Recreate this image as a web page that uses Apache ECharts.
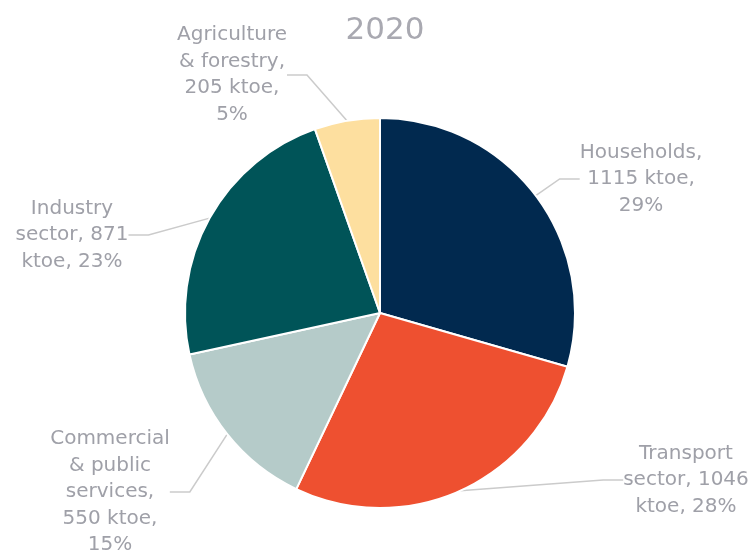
<!DOCTYPE html>
<html>
<head>
<meta charset="utf-8">
<script src="https://cdn.jsdelivr.net/npm/echarts@6/dist/echarts.min.js"></script>
<style>
  html, body { margin: 0; padding: 0; background: #fff; }
  #chart { width: 752px; height: 557px; }
</style>
</head>
<body>
<div id="chart"></div>
<script>
// Final energy consumption by sector, 2020 (ktoe)
const year = '2020';
const sectors = ['Households', 'Transport sector', 'Commercial & public services', 'Industry sector', 'Agriculture & forestry'];
const ktoe = [1115, 1046, 550, 871, 205];
const colors = ['#01294f', '#ee5030', '#b5cbc9', '#005458', '#fddf9f'];

// Label text templates: {v} = value, {p} = share in percent
const labelTemplates = [
  'Households,\n{v} ktoe,\n{p}%',
  'Transport\nsector, {v}\nktoe, {p}%',
  'Commercial\n& public\nservices,\n{v} ktoe,\n{p}%',
  'Industry\nsector, {v}\nktoe, {p}%',
  'Agriculture\n& forestry,\n{v} ktoe,\n{p}%'
];

// Label anchor points (centre of each text block)
const labelSpots = [[641, 179], [686, 480], [110, 492], [72, 235], [232, 75]];

const chart = echarts.init(document.getElementById('chart'), null, { renderer: 'canvas' });

chart.setOption({
  backgroundColor: '#ffffff',
  animation: false,
  title: {
    text: year,
    left: 380,
    top: 10,
    textAlign: 'center',
    textStyle: { fontFamily: 'DejaVu Sans', fontWeight: 'normal', fontSize: 31, color: '#a9a9b1' }
  },
  series: [{
    type: 'pie',
    center: [380, 313],
    radius: [0, 195],
    startAngle: 90,
    clockwise: true,
    percentPrecision: 0,
    itemStyle: { borderColor: '#ffffff', borderWidth: 2 },
    label: {
      show: true,
      position: 'outside',
      fontFamily: 'DejaVu Sans',
      fontSize: 20,
      lineHeight: 26.5,
      color: '#9fa0a8',
      align: 'center',
      formatter: function (p) {
        return labelTemplates[p.dataIndex].replace('{v}', p.value).replace('{p}', p.percent);
      }
    },
    labelLine: {
      show: true,
      length: 15,
      length2: 20,
      lineStyle: { color: '#cbcbcb', width: 1.5 }
    },
    labelLayout: function (params) {
      const s = labelSpots[params.dataIndex];
      return { x: s[0], y: s[1], align: 'center', verticalAlign: 'middle' };
    },
    data: sectors.map(function (name, i) {
      return { name: name, value: ktoe[i], itemStyle: { color: colors[i] } };
    })
  }]
});
</script>
</body>
</html>
